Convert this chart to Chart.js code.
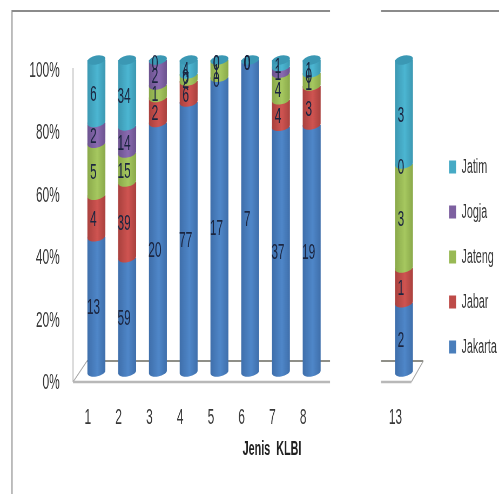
<!DOCTYPE html>
<html>
<head>
<meta charset="utf-8">
<style>
  html, body { margin: 0; padding: 0; background: #fff; overflow: hidden; }
</style>
<script src="https://cdn.jsdelivr.net/npm/chart.js@4/dist/chart.umd.min.js"></script>
</head>
<body>
<canvas id="klbiChart" width="924" height="494" style="display:block;width:499px;height:494px"></canvas>
<script>
// canvas is drawn wide and squeezed by css, which gives the tall narrow lettering
const squeeze = 499 / 924;
const px = x => x / squeeze;

const categories = ['1', '2', '3', '4', '5', '6', '7', '8', '', '', '13'];
const jakarta = [13, 59, 20, 77, 17, 7, 37, 19, null, null, 2];
const jabar = [4, 39, 2, 6, 0, 0, 4, 3, null, null, 1];
const jateng = [5, 15, 1, 2, 1, 0, 4, 1, null, null, 3];
const jogja = [2, 14, 2, 0, 0, 0, 1, 0, null, null, 0];
const jatim = [6, 34, 0, 4, 0, 0, 1, 1, null, null, 3];

const seriesNames = ['Jakarta', 'Jabar', 'Jateng', 'Jogja', 'Jatim'];
const seriesValues = [jakarta, jabar, jateng, jogja, jatim];
const seriesColors = ['#4a7ebb', '#be4b48', '#98b954', '#7d60a0', '#46aac5'];
const edgeColors = ['#3f6fab', '#a9413e', '#8aa94a', '#6c538f', '#3c98b2'];
const midColors = ['#4f87c9', '#cf5451', '#a6c860', '#8a6bb1', '#4cb6d2'];
const capColor = '#3b98b4';

const fontFamily = '"Liberation Sans", sans-serif';

function shareOf(values, index) {
    if (values[index] === null) return null;
    const total = seriesValues.reduce((sum, s) => sum + s[index], 0);
    return values[index] / total * 100;
}

function cylinderFill(chart, x, width, seriesIndex) {
    const g = chart.ctx.createLinearGradient(x - width / 2, 0, x + width / 2, 0);
    g.addColorStop(0, edgeColors[seriesIndex]);
    g.addColorStop(0.55, midColors[seriesIndex]);
    g.addColorStop(1, edgeColors[seriesIndex]);
    return g;
}

const datasets = seriesNames.map((name, s) => ({
    label: name,
    data: categories.map((_, i) => shareOf(seriesValues[s], i)),
    backgroundColor: seriesColors[s],
    barThickness: px(18),
    borderWidth: 0
}));

// frame of the sheet, back wall and floor, behind the bars
const backdrop = {
    id: 'backdrop',
    beforeDatasetsDraw(chart) {
        const { ctx, chartArea: area } = chart;
        const floorBack = area.bottom - 11;
        const floorFront = area.bottom + 10;
        const wallX = area.left - px(8);
        const farX = area.right + px(4);

        ctx.save();
        ctx.strokeStyle = '#8b8b8b';
        ctx.lineWidth = 2;
        ctx.beginPath();
        ctx.moveTo(px(12), 494);
        ctx.lineTo(px(12), 11);
        ctx.lineTo(px(499), 11);
        ctx.stroke();

        ctx.strokeStyle = '#a9a9a9';
        ctx.lineWidth = 1.5;
        ctx.beginPath();
        ctx.moveTo(wallX, 68);
        ctx.lineTo(wallX, floorFront);
        ctx.moveTo(wallX, floorFront);
        ctx.lineTo(wallX + px(14), floorBack);
        ctx.moveTo(farX - px(12), floorFront);
        ctx.lineTo(farX, floorBack);
        ctx.stroke();

        ctx.strokeStyle = '#8f8f88';
        ctx.lineWidth = 2;
        ctx.beginPath();
        ctx.moveTo(wallX + px(14), floorBack);
        ctx.lineTo(farX, floorBack);
        ctx.stroke();

        ctx.strokeStyle = '#b8b8b8';
        ctx.lineWidth = 2.5;
        ctx.beginPath();
        ctx.moveTo(wallX, floorFront);
        ctx.lineTo(farX - px(12), floorFront);
        ctx.stroke();

        // break in the axis between 8 and 13
        ctx.fillStyle = '#fff';
        ctx.fillRect(px(330), 0, px(51), area.bottom + 30);
        ctx.restore();
    }
};

// paints each bar element as a cylinder section and writes the counts on them
const cylinders = {
    id: 'cylinders',
    beforeDatasetDraw() {
        return false;
    },
    afterDatasetsDraw(chart) {
        const { ctx } = chart;
        const tilt = -0.09;
        const ry = 4.5;

        ctx.save();
        seriesValues.forEach((values, s) => {
            const meta = chart.getDatasetMeta(s);
            meta.data.forEach((bar, i) => {
                if (values[i] === null) return;
                const rx = bar.width / 2;
                if (values[i] > 0) {
                    ctx.fillStyle = cylinderFill(chart, bar.x, bar.width, s);
                    ctx.beginPath();
                    ctx.moveTo(bar.x - rx, bar.y);
                    ctx.lineTo(bar.x + rx, bar.y);
                    ctx.ellipse(bar.x, bar.base, rx, ry, tilt, 0, Math.PI);
                    ctx.closePath();
                    ctx.fill();
                }
                if (s === seriesValues.length - 1) {
                    ctx.fillStyle = capColor;
                    ctx.beginPath();
                    ctx.ellipse(bar.x, bar.y, rx, ry, tilt, 0, Math.PI * 2);
                    ctx.fill();
                }
            });
        });

        ctx.font = '22px ' + fontFamily;
        ctx.fillStyle = '#1b2540';
        ctx.textAlign = 'center';
        ctx.textBaseline = 'middle';
        seriesValues.forEach((values, s) => {
            chart.getDatasetMeta(s).data.forEach((bar, i) => {
                if (values[i] === null) return;
                ctx.fillText(String(values[i]), bar.x - px(3), (bar.y + bar.base) / 2 + 4);
            });
        });

        ctx.font = 'bold 20px ' + fontFamily;
        ctx.fillStyle = '#222';
        ctx.fillText('Jenis  KLBI', px(272), 449);
        ctx.restore();
    }
};

// moves the legend clear of the plot without changing the plot's width
const legendNudge = {
    id: 'legendNudge',
    afterLayout(chart) {
        chart.legend.left = px(449) - 25;
        chart.legend.right = chart.width;
    }
};

new Chart(document.getElementById('klbiChart').getContext('2d'), {
    type: 'bar',
    data: { labels: categories, datasets: datasets },
    plugins: [backdrop, cylinders, legendNudge],
    options: {
        responsive: false,
        animation: false,
        devicePixelRatio: 1,
        layout: { padding: { top: 60, bottom: 40, left: 0, right: 24 } },
        scales: {
            x: {
                stacked: true,
                grid: { display: false },
                border: { display: false },
                afterFit(scale) { scale.height = 82; },
                ticks: {
                    autoSkip: false,
                    maxRotation: 0,
                    padding: 25,
                    labelOffset: px(-8.5),
                    color: '#383838',
                    font: { family: fontFamily, size: 22 }
                }
            },
            y: {
                stacked: true,
                min: 0,
                max: 100,
                grid: { display: false },
                border: { display: false },
                afterFit(scale) { scale.width = px(81); },
                ticks: {
                    stepSize: 20,
                    padding: px(17),
                    labelOffset: 11,
                    color: '#383838',
                    font: { family: fontFamily, size: 22 },
                    callback: value => value + '%'
                }
            }
        },
        plugins: {
            title: { display: false },
            tooltip: { enabled: false },
            legend: {
                position: 'right',
                reverse: true,
                labels: {
                    boxWidth: px(7),
                    boxHeight: 13,
                    padding: 25,
                    color: '#383838',
                    font: { family: fontFamily, size: 20 }
                }
            }
        }
    }
});
</script>
</body>
</html>
